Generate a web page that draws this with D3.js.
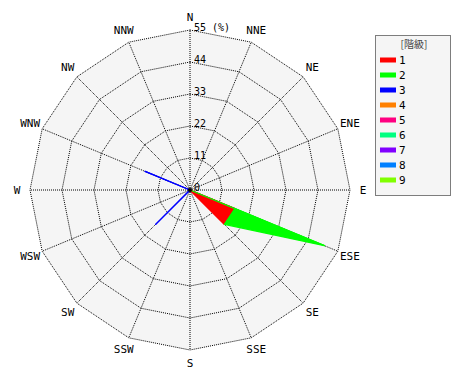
<!DOCTYPE html>
<html><head><meta charset="utf-8">
<script src="https://cdn.jsdelivr.net/npm/d3@7"></script>
<style>body{margin:0;background:#fff}</style>
</head><body>
<script>
const directions = ["N","NNE","NE","ENE","E","ESE","SE","SSE","S","SSW","SW","WSW","W","WNW","NW","NNW"];
const classes = ["1","2","3","4","5","6","7","8","9"];
const classColors = ["#ff0000","#00ff00","#0000ff","#ff8000","#ff0080","#00ff80","#8000ff","#0080ff","#80ff00"];
//             N NNE NE ENE E  ESE   SE    SSE S SSW SW    WSW W WNW   NW NNW
const class1 = [0,0,0,0,0,16.7,16.7,0,0,0,0,0,0,0,0,0];
const class2 = [0,0,0,0,0,33.3,0,0,0,0,0,0,0,0,0,0];
const class3 = [0,0,0,0,0,0,0,0,0,0,16.7,0,0,16.7,0,0];
const class4 = [0,0,0,0,0,0,0,0,0,0,0,0,0,0,0,0];
const class5 = [0,0,0,0,0,0,0,0,0,0,0,0,0,0,0,0];
const class6 = [0,0,0,0,0,0,0,0,0,0,0,0,0,0,0,0];
const class7 = [0,0,0,0,0,0,0,0,0,0,0,0,0,0,0,0];
const class8 = [0,0,0,0,0,0,0,0,0,0,0,0,0,0,0,0];
const class9 = [0,0,0,0,0,0,0,0,0,0,0,0,0,0,0,0];
const ticks = [0,11,22,33,44,55];
const unitLabel = "(%)";
const legendTitle = "[階級]";

const series = [class1,class2,class3,class4,class5,class6,class7,class8,class9];
const W = 470, H = 380, cx = 190, cy = 190, R = 160;
const svg = d3.select("body").append("svg").attr("width",W).attr("height",H);
const g = svg.append("g").attr("transform",`translate(${cx},${cy})`);
const r = d3.scaleLinear().domain([0,55]).range([0,R]);
const ang = d3.scaleBand().domain(directions).range([0,2*Math.PI]).paddingInner(0).align(0);
const angleOf = d => ang(d);
const poly = d3.lineRadial().curve(d3.curveLinearClosed);
const n = directions.length;

// background
g.append("path").attr("d", poly(directions.map(d=>[angleOf(d), r(55)]))).attr("fill","#f5f5f5");

// rings
ticks.filter(t=>t>0).forEach(t=>{
  g.append("path").attr("d", poly(directions.map(d=>[angleOf(d), r(t)])))
   .attr("fill","none").attr("stroke","#000").attr("stroke-width",1).attr("stroke-dasharray","1,1");
});
// spokes
directions.forEach(d=>{
  const a = angleOf(d);
  g.append("line").attr("x1",0).attr("y1",0)
   .attr("x2", r(55)*Math.sin(a)).attr("y2", -r(55)*Math.cos(a))
   .attr("stroke","#000").attr("stroke-width",1).attr("stroke-dasharray","1,1");
});

// stacked class bands, drawn segment by segment between neighbouring directions
let lower = directions.map(()=>0);
series.forEach((s,i)=>{
  const upper = lower.map((v,j)=>v+s[j]);
  for (let j=0;j<n;j++){
    const k = (j+1)%n;
    if (s[j] > 0 || s[k] > 0) {
      const aj = angleOf(directions[j]), ak = angleOf(directions[k]);
      const pts = [[aj, r(lower[j])],[aj, r(upper[j])],[ak, r(upper[k])],[ak, r(lower[k])]];
      g.append("path").attr("d", poly(pts))
       .attr("fill", classColors[i]).attr("stroke", classColors[i]).attr("stroke-width",1.2)
       .attr("stroke-linejoin","round");
    }
  }
  lower = upper;
});

g.append("circle").attr("r",2).attr("fill","#000");

// tick labels
ticks.forEach(t=>{
  g.append("text").attr("x",4).attr("y",-r(t)+1)
   .attr("font-family","DejaVu Sans Mono").attr("font-size",10).attr("fill","#000")
   .text(t === 55 ? t + " " + unitLabel : t);
});

// direction labels
directions.forEach(d=>{
  const a = angleOf(d), rr = 173;
  g.append("text").attr("x", rr*Math.sin(a)).attr("y", -rr*Math.cos(a))
   .attr("text-anchor","middle").attr("dominant-baseline","central")
   .attr("font-family","DejaVu Sans Mono").attr("font-size",11).attr("fill","#000")
   .text(d);
});

// legend
const lg = svg.append("g");
lg.append("rect").attr("x",375.5).attr("y",35.5).attr("width",75).attr("height",160)
  .attr("fill","#f5f5f5").attr("stroke","#000").attr("stroke-dasharray","1,1");
lg.append("text").attr("x",414).attr("y",43).attr("text-anchor","middle").attr("dominant-baseline","central")
  .attr("font-family","Noto Sans CJK JP").attr("font-size",10).attr("fill","#444").text(legendTitle);
const ly = d3.scalePoint().domain(classes).range([60,180]);
classes.forEach((c,i)=>{
  lg.append("rect").attr("x",380).attr("y",ly(c)-2.5).attr("width",16).attr("height",5).attr("fill",classColors[i]);
  lg.append("text").attr("x",399).attr("y",ly(c)).attr("dominant-baseline","central")
    .attr("font-family","DejaVu Sans Mono").attr("font-size",11).attr("fill","#000").text(c);
});
</script>
</body></html>
